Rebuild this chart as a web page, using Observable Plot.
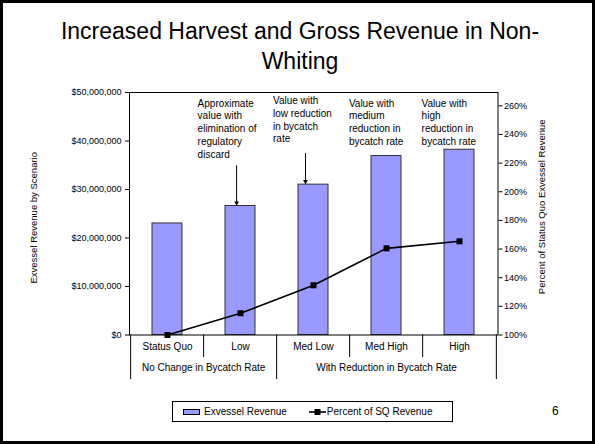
<!DOCTYPE html>
<html>
<head>
<meta charset="utf-8">
<script src="https://cdn.jsdelivr.net/npm/d3@7"></script>
<script src="https://cdn.jsdelivr.net/npm/@observablehq/plot@0.6"></script>
<style>
  body { margin: 0; background: #fff; }
  #page { position: relative; width: 595px; height: 444px; overflow: hidden; background: #fff;
          font-family: "Liberation Sans", Arial, sans-serif; color: #000; }
  #frame { position: absolute; left: 0; top: 0; width: 595px; height: 444px; border: 3px solid #000; box-sizing: border-box; }
  #title { position: absolute; left: 4px; width: 592px; top: 15.5px; text-align: center; font-size: 23px; line-height: 30.5px; }
  #chart { position: absolute; left: 0; top: 80px; }
  #legend { position: absolute; left: 172px; top: 401px; width: 281px; height: 21px; border: 1px solid #000; box-sizing: border-box;
            display: flex; align-items: center; padding-left: 10px; font-size: 10px; }
  #pagenum { position: absolute; left: 552px; top: 404px; font-size: 12px; line-height: 14px; }
</style>
</head>
<body>
<div id="page">
  <div id="frame"></div>
  <div id="title">Increased Harvest and Gross Revenue in Non-<br>Whiting</div>
  <div id="chart"></div>
  <div id="legend"></div>
  <div id="pagenum">6</div>
</div>
<script>
// ---- data ----
const categories = ["Status Quo", "Low", "Med Low", "Med High", "High"];
const revenue = [23.0e6, 26.6e6, 31.0e6, 36.9e6, 38.2e6];
const percentOfSQ = [100, 115.2, 134.7, 160.5, 165.4];
const groups = [
  {label: "No Change in Bycatch Rate", cats: ["Status Quo", "Low"]},
  {label: "With Reduction in Bycatch Rate", cats: ["Med Low", "Med High", "High"]}
];
const revenueTicks = [0, 10e6, 20e6, 30e6, 40e6, 50e6];
const percentTicks = [100, 120, 140, 160, 180, 200, 220, 240, 260];
const seriesNames = ["Exvessel Revenue", "Percent of SQ Revenue"];
const annotations = [
  {cat: "Low", text: "Approximate\nvalue with\nelimination of\nregulatory\ndiscard", arrowFrom: 34.9e6},
  {cat: "Med Low", text: "Value with\nlow reduction\nin bycatch\nrate", arrowFrom: 37.4e6},
  {cat: "Med High", text: "Value with\nmedium\nreduction in\nbycatch rate"},
  {cat: "High", text: "Value with\nhigh\nreduction in\nbycatch rate"}
];
const axisTitleLeft = "Exvessel Revenue by Scenario";
const axisTitleRight = "Percent of Status Quo Exvessel Revenue";

// ---- styles / layout ----
const barFill = "#9999FF";
const annotStyle = {
  "Low": {dx: -42.9, dy: 5, adx: -3.9},
  "Med Low": {dx: -40.5, dy: 2.4, adx: -8},
  "Med High": {dx: -37.6, dy: 5},
  "High": {dx: -37.9, dy: 5}
};
const marginLeft = 129, marginRight = 97.5, width = 595;
const step = (width - marginLeft - marginRight) / categories.length;

const revMax = 50e6, pctMin = 100, pctMax = 269.3;
const pctToRev = d3.scaleLinear([pctMin, pctMax], [0, revMax]);

const data = categories.map((c, i) => ({cat: c, rev: revenue[i], pct: percentOfSQ[i]}));
const revOf = Object.fromEntries(data.map(d => [d.cat, d.rev]));
const arrows = annotations.filter(a => a.arrowFrom != null).map(a => ({...a, to: revOf[a.cat]}));

// dividers on category axis
const fullDiv = [], shortDiv = [];
groups.forEach(g => {
  fullDiv.push(g.cats[0]);
  g.cats.slice(1).forEach(c => shortDiv.push(c));
});
const lastCat = categories[categories.length - 1];

// group label positions
const groupLabels = groups.map(g => {
  const n = g.cats.length;
  if (n % 2 === 1) return {label: g.label, cat: g.cats[(n - 1) / 2], off: 0};
  return {label: g.label, cat: g.cats[n / 2], off: -step / 2};
});

const plotHeight = 310, marginTop = 12, marginBottom = 55.5;
const innerH = plotHeight - marginTop - marginBottom;

const chart = Plot.plot({
  width, height: plotHeight, marginTop, marginBottom, marginLeft, marginRight,
  style: {fontFamily: '"Liberation Sans", Arial, sans-serif', fontSize: "9px", color: "#000", background: "transparent", overflow: "visible"},
  x: {domain: categories, paddingInner: 0.593, paddingOuter: 0.2965, axis: null},
  y: {domain: [0, revMax], axis: null},
  marks: [
    Plot.barY(data, {x: "cat", y: "rev", fill: barFill, stroke: "#333", strokeWidth: 1}),
    Plot.frame({stroke: "#000"}),
    Plot.axisY(revenueTicks, {anchor: "left", tickFormat: d3.format("$,"), tickSize: 4, tickPadding: 4, label: null, fontSize: 9}),
    Plot.axisY(percentTicks.map(p => pctToRev(p)), {anchor: "right", tickFormat: d => Math.round(pctToRev.invert(d)) + "%", tickSize: 4, tickPadding: 2, label: null, fontSize: 9}),
    // category axis dividers
    Plot.ruleX(fullDiv, {x: d => d, dx: -step / 2, insetTop: innerH, insetBottom: -44.5, stroke: "#000"}),
    Plot.ruleX([lastCat], {x: d => d, dx: step / 2, insetTop: innerH, insetBottom: -44.5, stroke: "#000"}),
    Plot.ruleX(shortDiv, {x: d => d, dx: -step / 2, insetTop: innerH, insetBottom: -22.5, stroke: "#000"}),
    Plot.text(categories, {x: d => d, frameAnchor: "bottom", dy: 14.5, fontSize: 10}),
    ...groupLabels.map(g => Plot.text([g], {x: "cat", text: "label", frameAnchor: "bottom", dx: g.off, dy: 35.5, fontSize: 10})),
    // percent line
    Plot.line(data, {x: "cat", y: d => pctToRev(d.pct), stroke: "#000", strokeWidth: 1.6}),
    Plot.dot(data, {x: "cat", y: d => pctToRev(d.pct), symbol: "square", r: 3.4, fill: "#000", stroke: null}),
    // annotations
    ...annotations.map(a => Plot.text([a], {x: "cat", text: "text", frameAnchor: "top", textAnchor: "start", lineAnchor: "top",
        lineHeight: 1.28, fontSize: 10, dx: annotStyle[a.cat].dx, dy: annotStyle[a.cat].dy})),
    ...arrows.map(a => Plot.ruleX([a], {x: "cat", y1: "arrowFrom", y2: "to", dx: annotStyle[a.cat].adx, stroke: "#000", strokeWidth: 1})),
    ...arrows.map(a => Plot.dot([a], {x: "cat", y: "to", dx: annotStyle[a.cat].adx, dy: -3.2, symbol: "triangle2", rotate: 180, r: 2.3, fill: "#000", stroke: null})),
    // axis titles
    Plot.text([axisTitleLeft], {frameAnchor: "left", textAnchor: "middle", rotate: -90, dx: -96, dy: 4, fontSize: 9.5}),
    Plot.text([axisTitleRight], {frameAnchor: "right", textAnchor: "middle", rotate: -90, dx: 44.2, dy: -7, fontSize: 9.5})
  ]
});
document.getElementById("chart").appendChild(chart);

// legend
const legend = document.getElementById("legend");
legend.innerHTML = `
  <span style="display:inline-block;width:17px;height:6px;background:${barFill};border:1px solid #000;box-sizing:border-box"></span>
  <span style="margin-left:4px">${seriesNames[0]}</span>
  <svg width="17" height="8" style="margin-left:22px;display:block"><line x1="0" x2="17" y1="4" y2="4" stroke="#000" stroke-width="1.6"/><rect x="5.5" y="1" width="6" height="6" fill="#000"/></svg>
  <span style="margin-left:1px">${seriesNames[1]}</span>`;
</script>
</body>
</html>
